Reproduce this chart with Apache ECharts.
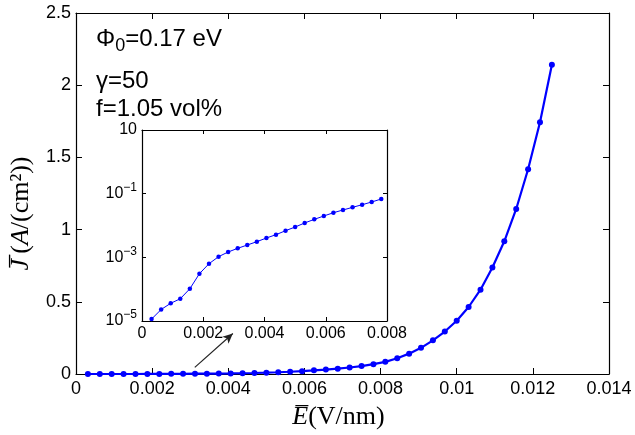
<!DOCTYPE html>
<html>
<head>
<meta charset="utf-8">
<script src="https://cdn.jsdelivr.net/npm/echarts@6/dist/echarts.min.js"></script>
<style>html,body{margin:0;padding:0;background:#fff;}#c{width:635px;height:435px;}</style>
</head>
<body>
<div id="c"></div>
<script>
// Field E (V/nm)
const E = [0.0003125, 0.000625, 0.0009375, 0.00125, 0.0015625, 0.001875, 0.0021875, 0.0025,
  0.0028125, 0.003125, 0.0034375, 0.00375, 0.0040625, 0.004375, 0.0046875, 0.005,
  0.0053125, 0.005625, 0.0059375, 0.00625, 0.0065625, 0.006875, 0.0071875, 0.0075,
  0.0078125, 0.008125, 0.0084375, 0.00875, 0.0090625, 0.009375, 0.0096875, 0.01,
  0.0103125, 0.010625, 0.0109375, 0.01125, 0.0115625, 0.011875, 0.0121875, 0.0125];
// Current density J (A/cm^2)
const J = [1.15e-5, 2.3e-5, 3.6e-5, 5.0e-5, 1.03e-4, 3.06e-4, 6.3e-4, 1.05e-3,
  1.47e-3, 1.92e-3, 2.44e-3, 3.1e-3, 4.05e-3, 5.14e-3, 6.87e-3, 8.97e-3,
  0.0120, 0.0156, 0.0199, 0.0252, 0.0307, 0.0372, 0.045, 0.0547,
  0.068, 0.084, 0.109, 0.141, 0.181, 0.233, 0.294, 0.369,
  0.464, 0.584, 0.738, 0.919, 1.143, 1.418, 1.744, 2.142];
const insetMaxE = 0.008;
const mainXTicks = ['0', '0.002', '0.004', '0.006', '0.008', '0.01', '0.012', '0.014'];
const mainYTicks = ['0', '0.5', '1', '1.5', '2', '2.5'];
const insetXTicks = ['0', '0.002', '0.004', '0.006', '0.008'];
const insetYExps = [-5, -3, -1, 1];
const annotations = ['{p|\u03A6}{s|0}{p|=0.17 eV}', '{p|\u03B3=50}', '{p|f=1.05 vol%}'];
const arrowFrom = [0.00312, 0.046];
const arrowTo = [0.00412, 0.28];

const mainData = E.map((e, i) => [e, J[i]]);
const insetData = E.map((e, i) => [e, J[i]]).filter(d => d[0] <= insetMaxE);

const SANS = 'Liberation Sans, Arial, sans-serif';
const SERIF = 'Liberation Serif, Times New Roman, serif';
const BLUE = '#0000ff';

function axisBase(extra) {
  return Object.assign({
    axisLine: { show: true, onZero: false, lineStyle: { color: '#000', width: 1.2 } },
    splitLine: { show: false },
  }, extra);
}

const chart = echarts.init(document.getElementById('c'), null, { renderer: 'canvas' });
chart.setOption({
  animation: false,
  backgroundColor: '#fff',
  grid: [
    { left: 74, right: 26, top: 13, bottom: 55 },
    { left: 142, right: 248, top: 130, bottom: 114, show: true, backgroundColor: '#fff', borderWidth: 0 }
  ],
  xAxis: [
    axisBase({ gridIndex: 0, type: 'value', min: 0, max: 0.014, interval: 0.002, position: 'bottom',
      axisTick: { inside: true, length: 6, lineStyle: { color: '#000' } },
      axisLabel: { fontSize: 18, color: '#000', fontFamily: SANS, margin: 6,
        formatter: (v) => mainXTicks[Math.round(v / 0.002)] },
      name: '{e|E\u0305}{n|(V/nm)}', nameLocation: 'middle', nameGap: 30,
      nameTextStyle: { padding: [0, 8, 0, 0], rich: { e: { fontFamily: SERIF, fontStyle: 'italic', fontSize: 26, color: '#000' },
                               n: { fontFamily: SERIF, fontSize: 26, color: '#000' } } } }),
    axisBase({ gridIndex: 0, type: 'value', min: 0, max: 0.014, interval: 0.002, position: 'top',
      axisTick: { inside: true, length: 6, lineStyle: { color: '#000' } }, axisLabel: { show: false } }),
    axisBase({ gridIndex: 1, type: 'value', min: 0, max: 0.008, interval: 0.002, position: 'bottom',
      axisTick: { inside: true, length: 4, lineStyle: { color: '#000' } },
      axisLabel: { fontSize: 16, color: '#000', fontFamily: SANS, margin: 5,
        formatter: (v) => insetXTicks[Math.round(v / 0.002)] } }),
    axisBase({ gridIndex: 1, type: 'value', min: 0, max: 0.008, interval: 0.002, position: 'top',
      axisTick: { inside: true, length: 4, lineStyle: { color: '#000' } }, axisLabel: { show: false } })
  ],
  yAxis: [
    axisBase({ gridIndex: 0, type: 'value', min: 0, max: 2.5, interval: 0.5, position: 'left',
      axisTick: { inside: true, length: 6, lineStyle: { color: '#000' } },
      axisLabel: { fontSize: 18, color: '#000', fontFamily: SANS, margin: 5,
        formatter: (v) => mainYTicks[Math.round(v / 0.5)] },
      name: '{j|J\u0305}{n|\u2009(}{a|A}{n|/(cm\u00B2))}', nameLocation: 'middle', nameRotate: 90, nameGap: 42,
      nameTextStyle: { padding: [0, 0, 0, -40],
        rich: { j: { fontFamily: SERIF, fontStyle: 'italic', fontSize: 26, color: '#000' },
                a: { fontFamily: SERIF, fontStyle: 'italic', fontSize: 26, color: '#000' },
                n: { fontFamily: SERIF, fontSize: 26, color: '#000' } } } }),
    axisBase({ gridIndex: 0, type: 'value', min: 0, max: 2.5, interval: 0.5, position: 'right',
      axisTick: { inside: true, length: 6, lineStyle: { color: '#000' } }, axisLabel: { show: false } }),
    axisBase({ gridIndex: 1, type: 'log', logBase: 10, min: 1e-5, max: 10, interval: 2, position: 'left',
      axisTick: { inside: true, length: 4, lineStyle: { color: '#000' } },
      axisLabel: { color: '#000', margin: 5,
        formatter: (v) => {
          const ex = Math.round(Math.log10(v));
          if (ex === 1) return '{b|10}';
          return '{b|10}{s|' + (ex < 0 ? '\u2212' : '') + Math.abs(ex) + '}';
        },
        rich: { b: { fontSize: 16, fontFamily: SANS, color: '#000' },
                s: { fontSize: 12, fontFamily: SANS, color: '#000', padding: [0, 0, 12, 0] } } } }),
    axisBase({ gridIndex: 1, type: 'log', logBase: 10, min: 1e-5, max: 10, interval: 2, position: 'right',
      axisTick: { inside: true, length: 4, lineStyle: { color: '#000' } }, axisLabel: { show: false } })
  ],
  series: [
    { type: 'line', xAxisIndex: 0, yAxisIndex: 0, data: mainData,
      symbol: 'circle', symbolSize: 6, showSymbol: true,
      lineStyle: { color: BLUE, width: 2.2 }, itemStyle: { color: BLUE },
      markLine: { silent: true, symbol: ['none', 'arrow'], symbolSize: [7, 10], animation: false,
        lineStyle: { color: '#222', width: 1.2, type: 'solid' }, label: { show: false },
        data: [[{ coord: arrowFrom }, { coord: arrowTo }]] } },
    { type: 'line', xAxisIndex: 2, yAxisIndex: 2, data: insetData,
      symbol: 'circle', symbolSize: 4.5, showSymbol: true,
      lineStyle: { color: BLUE, width: 1 }, itemStyle: { color: BLUE } }
  ],
  graphic: annotations.map((t, i) => ({
    type: 'text', left: 96, top: [27, 69, 97][i],
    style: { text: t, rich: {
      p: { fontSize: 24, fontFamily: SANS, fill: '#000', lineHeight: 27 },
      s: { fontSize: 18, fontFamily: SANS, fill: '#000', padding: [15, 0, 0, 0] } } }
  }))
});
</script>
</body>
</html>
